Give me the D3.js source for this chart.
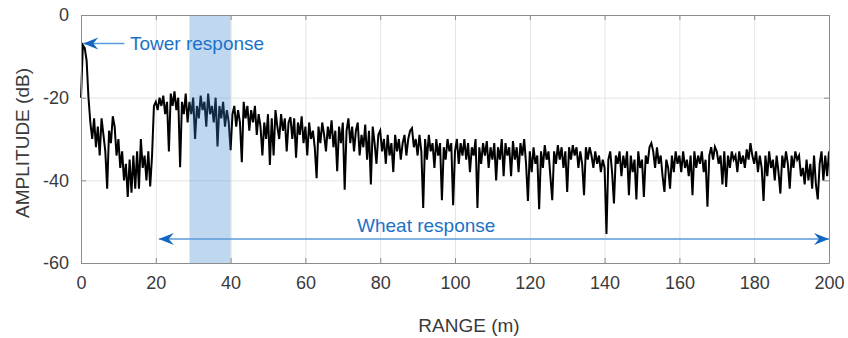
<!DOCTYPE html>
<html>
<head>
<meta charset="UTF-8">
<style>
  body { margin: 0; background: #ffffff; }
  svg text { font-family: "Liberation Sans", Arial, sans-serif; }
  .axis text { font-size: 18px; fill: #3a3a3a; }
  .axis path, .axis line { stroke: #8c8c8c; }
  .grid line { stroke: #e4e4e4; }
  .grid path { display: none; }
</style>
</head>
<body>
<svg id="chart" width="848" height="338"></svg>
<script src="https://cdn.jsdelivr.net/npm/d3@7"></script>
<script>
// sampling of the range axis (m)
var rangeStep = 0.5;

// amplitude (dB), one value every 0.5 m from 0 to 200 m
var amplitudeDb = [
  -20, -7.3, -8, -11, -20, -26, -30, -25, -32, -27, -34, -25, -29, -33, -42, -28, -31, -24.5, -27, -34,
  -30, -37, -33, -40, -36, -44, -35, -43, -34, -42, -33, -42, -30, -37, -34, -40, -33, -41.5, -34, -22,
  -21, -23, -20, -22, -19.5, -24, -21, -33, -19, -22, -18.5, -23, -20, -36.8, -21, -24, -19, -26, -21, -24,
  -20, -30, -22, -25, -19.5, -23, -21, -27, -19, -24, -22, -26, -20, -31.8, -22, -25, -21, -27, -23, -26,
  -32.7, -24, -22, -27, -23, -26, -35.6, -21, -25, -22, -28, -23, -26, -22, -29, -24, -27, -34, -26, -30,
  -24, -36.3, -25, -34, -23, -27, -30, -24, -28, -25, -33, -26, -24.7, -30, -25, -34.5, -26, -29, -24.5, -31,
  -27, -34, -26, -30, -28, -32, -39.5, -27, -31, -26, -29, -33, -27, -30, -25.5, -32, -28, -37.8, -27, -31,
  -26, -42.3, -28, -25, -31, -27, -33, -28, -26, -34, -29, -32, -26.5, -35, -28, -41, -27, -31, -36, -29,
  -28, -33, -30, -36, -29, -34, -31, -38, -29, -33, -30, -35, -31, -29, -34, -30, -28, -27.4, -32, -30,
  -34, -29, -33, -46.7, -30, -35, -29, -33, -31, -37, -30, -34, -31, -44.8, -32, -35, -30, -33, -31, -46,
  -33, -30, -36, -31, -34, -30, -35, -31, -38, -32, -34, -30, -46.7, -32, -36, -31, -34, -30.5, -37, -32,
  -35, -31, -40, -32, -35, -30, -39, -31, -34, -32, -39, -30.5, -35, -32, -38, -31, -34, -30, -36, -45,
  -33, -38, -32, -36, -34, -47, -33, -37, -31.5, -35, -33, -39, -44.8, -33, -36, -31.5, -35, -32, -37, -33,
  -42.8, -32, -35, -31.5, -34, -32, -37, -33, -36, -43.6, -32, -35, -32, -34, -37, -33, -36, -34, -38, -35,
  -37, -53, -35, -33, -38, -45.6, -34, -36, -33, -39, -34, -37, -33, -43.6, -34, -38, -35, -44.6, -33, -37,
  -35, -44, -34, -36, -32, -31, -33, -37, -32, -36, -34, -39, -42.8, -35, -37, -42, -34, -38, -33, -36,
  -34, -38, -33, -37, -35, -39, -34, -43.6, -33, -37, -34, -36, -33, -38, -35, -46.4, -34, -32, -35, -31.9,
  -33, -36, -34, -41, -33, -41.6, -34, -37, -33, -35, -34, -38, -33, -36, -34, -37, -32.5, -35, -31, -34,
  -36, -33, -38, -34, -37, -45, -34, -39, -33, -37, -35, -40, -34, -38, -43.2, -34, -37, -33, -36, -42,
  -34, -37, -33, -35, -34, -39, -37, -41, -35, -40, -36, -42, -34, -41, -44.6, -36, -33, -40, -34, -39,
  -33
];

var xTicks = [0, 20, 40, 60, 80, 100, 120, 140, 160, 180, 200];
var yTicks = [-60, -40, -20, 0];

// highlighted range window (m)
var bandRange = [29, 40];

// annotations: [x1, x2, y] in data units
var towerArrow = [11.6, 0.6, -6.9];
var wheatArrow = [20.8, 200, -54.2];
var towerLabel = "Tower response";
var wheatLabel = "Wheat response";

var margin = { top: 15, right: 19, bottom: 75, left: 81 };
var width = 848 - margin.left - margin.right;
var height = 338 - margin.top - margin.bottom;

var svg = d3.select("#chart");
var g = svg.append("g").attr("transform", "translate(" + margin.left + "," + margin.top + ")");

var x = d3.scaleLinear().domain([0, 200]).range([0, width]);
var y = d3.scaleLinear().domain([-60, 0]).range([height, 0]);

// grid
g.append("g").attr("class", "grid")
  .attr("transform", "translate(0," + height + ")")
  .call(d3.axisBottom(x).tickValues(xTicks).tickSize(-height).tickFormat(""));
g.append("g").attr("class", "grid")
  .call(d3.axisLeft(y).tickValues(yTicks).tickSize(-width).tickFormat(""));

// trace
var points = amplitudeDb.map(function(d, i) { return [i * rangeStep, d]; });
var line = d3.line()
  .x(function(d) { return x(d[0]); })
  .y(function(d) { return y(d[1]); });

g.append("path")
  .datum(points)
  .attr("fill", "none")
  .attr("stroke", "#000000")
  .attr("stroke-width", 2)
  .attr("stroke-linejoin", "miter")
  .attr("d", line);

// shaded band on top, semi transparent
g.append("rect")
  .attr("x", x(bandRange[0]))
  .attr("y", 0)
  .attr("width", x(bandRange[1]) - x(bandRange[0]))
  .attr("height", height)
  .attr("fill", "#3a82d0")
  .attr("opacity", 0.32);

// axes with inward ticks on all four sides
function styleAxis(sel) {
  sel.attr("class", "axis");
  sel.select(".domain").attr("stroke", "#8c8c8c");
}
var plain = function(d) { return String(d); };
g.append("g")
  .attr("transform", "translate(0," + height + ")")
  .call(d3.axisBottom(x).tickValues(xTicks).tickFormat(plain).tickSizeInner(-5).tickSizeOuter(0).tickPadding(13))
  .call(styleAxis);
g.append("g")
  .call(d3.axisLeft(y).tickValues(yTicks).tickFormat(plain).tickSizeInner(-5).tickSizeOuter(0).tickPadding(12))
  .call(styleAxis);
g.append("g")
  .call(d3.axisTop(x).tickValues(xTicks).tickSizeInner(-5).tickSizeOuter(0).tickFormat(""))
  .call(styleAxis);
g.append("g")
  .attr("transform", "translate(" + width + ",0)")
  .call(d3.axisRight(y).tickValues(yTicks).tickSizeInner(-5).tickSizeOuter(0).tickFormat(""))
  .call(styleAxis);

g.selectAll(".axis text").attr("font-family", "Liberation Sans, Arial, sans-serif");

// axis titles
svg.append("text")
  .attr("x", 469)
  .attr("y", 332)
  .attr("text-anchor", "middle")
  .attr("font-size", 19)
  .attr("fill", "#3a3a3a")
  .text("RANGE (m)");
svg.append("text")
  .attr("transform", "translate(29," + (margin.top + height / 2 + 4) + ") rotate(-90)")
  .attr("text-anchor", "middle")
  .attr("font-size", 19)
  .attr("fill", "#3a3a3a")
  .text("AMPLITUDE (dB)");

// arrows
var arrowBlue = "#1467c0";
function arrowHead(px, py, dir) {
  // dir = -1 pointing left, 1 pointing right
  var L = 15, W = 6, notch = 5;
  var p = [
    [px, py],
    [px - dir * L, py - W],
    [px - dir * (L - notch), py],
    [px - dir * L, py + W]
  ];
  return "M" + p.map(function(q) { return q.join(","); }).join("L") + "Z";
}
function drawArrow(a, both) {
  var x1 = x(a[0]), x2 = x(a[1]), yy = y(a[2]);
  g.append("line")
    .attr("x1", x1).attr("x2", x2).attr("y1", yy).attr("y2", yy)
    .attr("stroke", "#5a9ad8").attr("stroke-width", 1.4);
  var dir = x2 > x1 ? 1 : -1;
  g.append("path").attr("d", arrowHead(x2, yy, dir)).attr("fill", arrowBlue);
  if (both) g.append("path").attr("d", arrowHead(x1, yy, -dir)).attr("fill", arrowBlue);
}
drawArrow(towerArrow, false);
drawArrow(wheatArrow, true);

g.append("text")
  .attr("x", x(13.1))
  .attr("y", y(towerArrow[2]))
  .attr("dy", "0.36em")
  .attr("font-size", 19)
  .attr("fill", "#1a72c8")
  .text(towerLabel);
g.append("text")
  .attr("x", x(92.3))
  .attr("y", y(-50.8))
  .attr("dy", "0.36em")
  .attr("text-anchor", "middle")
  .attr("font-size", 19)
  .attr("fill", "#1a72c8")
  .text(wheatLabel);
</script>
</body>
</html>
